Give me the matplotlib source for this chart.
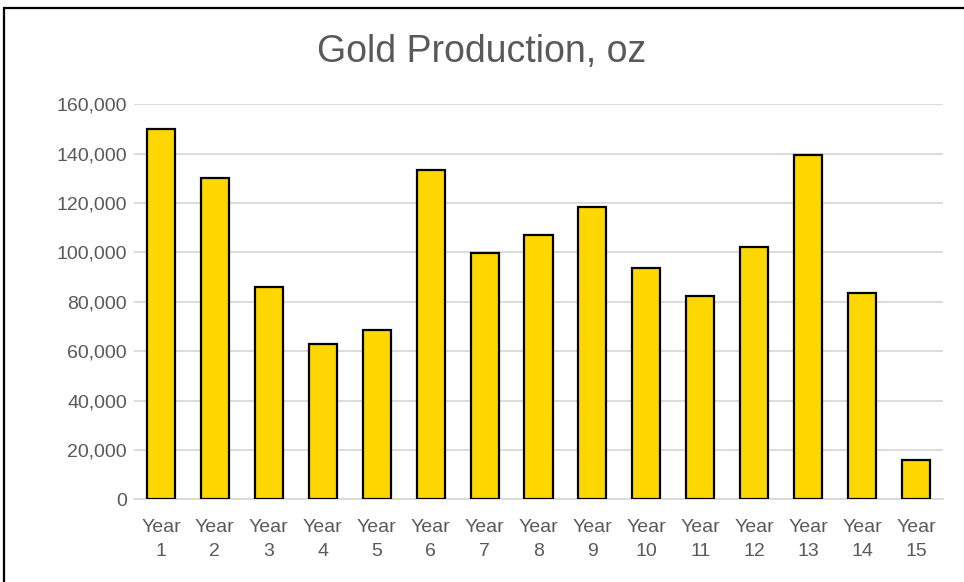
import matplotlib.pyplot as plt
from matplotlib.patches import Rectangle
from matplotlib.ticker import FuncFormatter

plt.rcParams['font.family'] = ['Liberation Sans', 'DejaVu Sans']

years = ['Year\n%d' % i for i in range(1, 16)]
gold_oz = [150000, 130000, 85800, 62800, 68500, 133200, 99900, 107200,
           118600, 93700, 82500, 102200, 139300, 83600, 15900]

fig = plt.figure(figsize=(9.64, 5.82), dpi=100)
ax = fig.add_axes([134 / 964, 1 - 499.3 / 582, (943 - 134) / 964, (499.3 - 104.3) / 582])

ax.bar(range(len(years)), gold_oz, width=0.52, color='#FFD700',
       edgecolor='black', linewidth=1.6, zorder=3)

ax.set_ylim(0, 160000)
ax.set_xlim(-0.5, len(years) - 0.5)
ax.set_yticks(range(0, 160001, 20000))
ax.yaxis.set_major_formatter(FuncFormatter(lambda v, p: '{:,.0f}'.format(v)))
ax.set_xticks(range(len(years)))
ax.set_xticklabels(years, linespacing=1.55)
ax.grid(axis='y', color='#d9d9d9', linewidth=1.3, zorder=0)
ax.tick_params(length=0, labelsize=14, colors='#595959')
ax.tick_params(axis='x', pad=14)
ax.tick_params(axis='y', pad=5)
for s in ['top', 'right', 'left']:
    ax.spines[s].set_visible(False)
ax.spines['bottom'].set_color('#d9d9d9')
ax.spines['bottom'].set_linewidth(1.3)

fig.text(0.5, 1 - 52 / 582, 'Gold Production, oz', ha='center', va='center',
         fontsize=27, color='#595959')

# chart frame
fig.patches.append(Rectangle((4 / 964, -0.1), 1.1, 1.1 - 8 / 582,
                             transform=fig.transFigure, fill=False,
                             edgecolor='black', linewidth=1.6))

fig.savefig('out.png', dpi=100)
